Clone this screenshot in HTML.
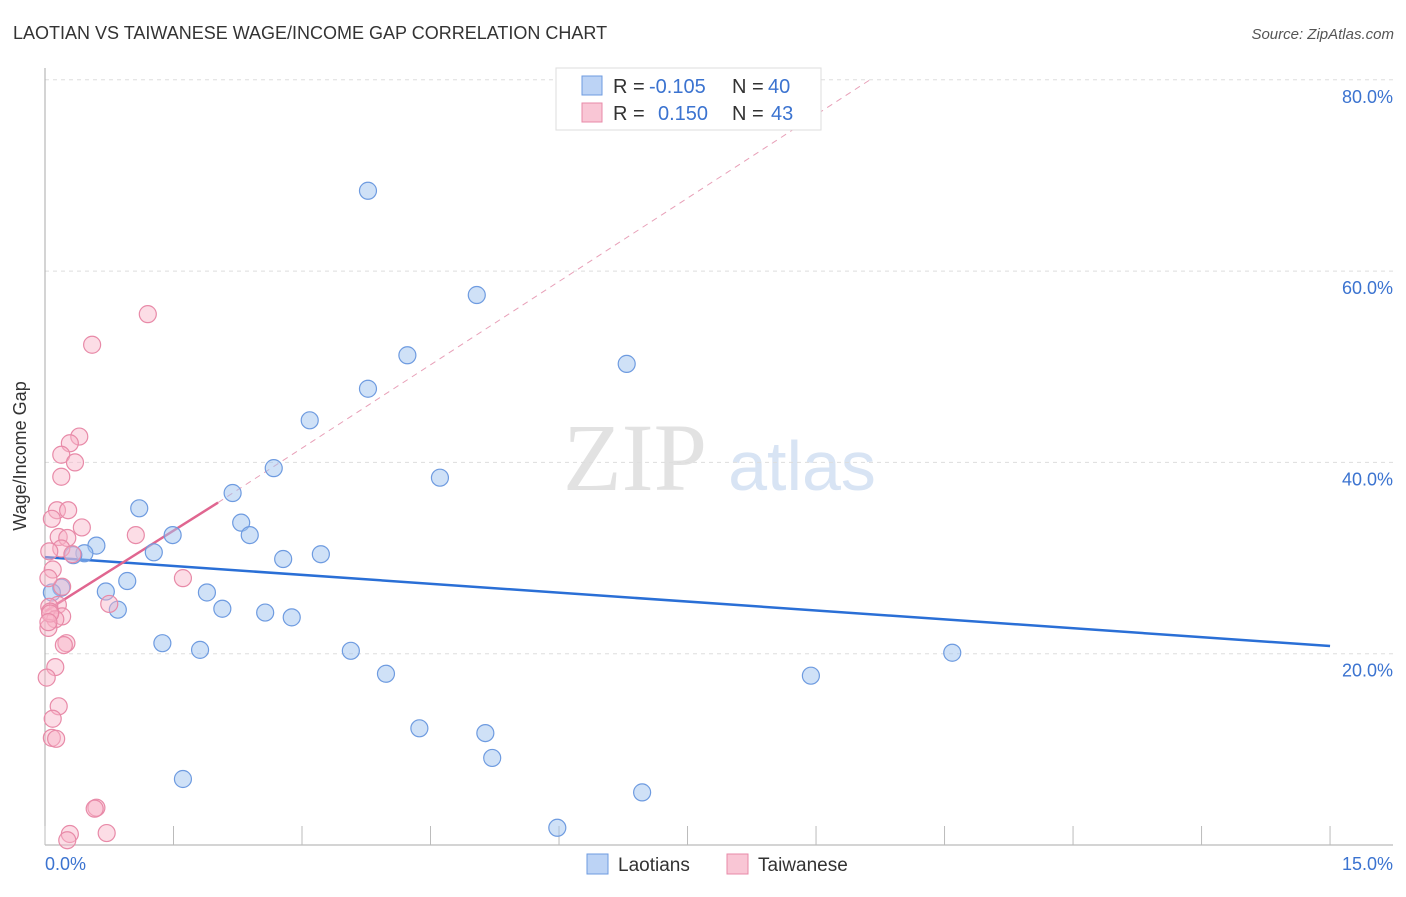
<!DOCTYPE html>
<html><head><meta charset="utf-8"><style>
body{margin:0;background:#fff;font-family:"Liberation Sans",sans-serif;}
</style></head><body>
<svg width="1406" height="892" xmlns="http://www.w3.org/2000/svg" font-family="Liberation Sans, sans-serif">
<text x="13" y="39" font-size="18" fill="#333">LAOTIAN VS TAIWANESE WAGE/INCOME GAP CORRELATION CHART</text>
<text x="1394" y="39" font-size="15" fill="#555" text-anchor="end" font-style="italic">Source: ZipAtlas.com</text>
<g>
<text x="635" y="490" font-size="96" fill="#e2e2e2" text-anchor="middle" font-family="Liberation Serif, serif">ZIP</text>
<text x="802" y="490" font-size="70" fill="#d8e4f4" text-anchor="middle">atlas</text>
</g>
<g id="grid"></g>
<g id="axes"></g>
<g id="trend"></g>
<g id="pts"></g>
<text x="26" y="456" font-size="18" fill="#333" text-anchor="middle" transform="rotate(-90 26 456)">Wage/Income Gap</text>
<text x="45" y="870" font-size="18" fill="#3b73d0">0.0%</text>
<text x="1393" y="870" font-size="18" fill="#3b73d0" text-anchor="end">15.0%</text>
<g>
<rect x="556" y="68" width="265" height="62" fill="#fff" stroke="#ddd"/>
<rect x="582" y="76" width="20" height="19" fill="#bcd3f5" stroke="#6e9be0"/>
<rect x="582" y="103" width="20" height="19" fill="#f9c6d5" stroke="#e88aa8"/>
<text x="613" y="93" font-size="20" fill="#333">R =</text>
<text x="649" y="93" font-size="20" fill="#3b73d0">-0.105</text>
<text x="732" y="93" font-size="20" fill="#333">N =</text>
<text x="768" y="93" font-size="20" fill="#3b73d0">40</text>
<text x="613" y="120" font-size="20" fill="#333">R =</text>
<text x="658" y="120" font-size="20" fill="#3b73d0">0.150</text>
<text x="732" y="120" font-size="20" fill="#333">N =</text>
<text x="771" y="120" font-size="20" fill="#3b73d0">43</text>
</g>
<g>
<rect x="587" y="854" width="21" height="20" fill="#bcd3f5" stroke="#6e9be0"/>
<text x="618" y="871" font-size="19" fill="#333">Laotians</text>
<rect x="727" y="854" width="21" height="20" fill="#f9c6d5" stroke="#e88aa8"/>
<text x="758" y="871" font-size="19" fill="#333">Taiwanese</text>
</g>
</svg>
<script>
const yTicks=[20,40,60,80];
const yTickLabels=["20.0%","40.0%","60.0%","80.0%"];
const xTicks=[0,1.5,3,4.5,6,7.5,9,10.5,12,13.5,15];
const blueX=[3.77,5.04,4.23,6.79,3.77,3.09,2.67,4.61,2.19,1.10,2.29,2.39,1.49,0.60,1.27,0.46,0.33,3.22,2.78,0.96,0.19,0.71,0.08,1.89,2.07,0.85,2.57,2.88,1.37,1.81,3.57,10.59,3.98,8.94,4.37,5.14,5.22,1.61,6.97,5.98];
const blueY=[68.4,57.5,51.2,50.3,47.7,44.4,39.4,38.4,36.8,35.2,33.7,32.4,32.4,31.3,30.6,30.5,30.3,30.4,29.9,27.6,26.9,26.5,26.4,26.4,24.7,24.6,24.3,23.8,21.1,20.4,20.3,20.1,17.9,17.7,12.2,11.7,9.1,6.9,5.5,1.8];
const pinkX=[1.20,0.55,0.40,0.29,0.19,0.35,0.19,0.14,0.27,0.08,0.43,1.06,0.16,0.26,0.19,0.32,0.05,0.09,0.20,0.04,1.61,0.75,0.15,0.05,0.06,0.20,0.12,0.04,0.25,0.22,0.12,0.02,0.16,0.09,0.08,0.13,0.60,0.58,0.72,0.29,0.26,0.06,0.04];
const pinkY=[55.5,52.3,42.7,42.0,40.8,40.0,38.5,35.0,35.0,34.1,33.2,32.4,32.2,32.1,31.0,30.4,30.7,28.8,27.0,27.9,27.9,25.2,25.1,24.9,24.4,23.9,23.6,22.7,21.1,20.9,18.6,17.5,14.5,13.2,11.2,11.1,3.9,3.8,1.25,1.15,0.5,24.2,23.3];
const blueTrend=[[0,30.1],[15,20.8]];
const pinkTrend=[[0,24.4],[2.02,35.8]];
const pinkDash=[[2.02,35.8],[9.63,80]];
const NS="http://www.w3.org/2000/svg";
const sx=v=>45+v*85.67, sy=v=>845-v*9.565;
function mk(t,a,p){const e=document.createElementNS(NS,t);for(const k in a)e.setAttribute(k,a[k]);document.getElementById(p).appendChild(e);return e;}
yTicks.forEach((t,i)=>{
 const l=mk('line',{x1:45,x2:1393,y1:sy(t),y2:sy(t),stroke:'#ddd','stroke-dasharray':'4,4'},'grid');
 
 
 const tx=mk('text',{x:1393,y:sy(t)+23,'font-size':18,fill:'#3b73d0','text-anchor':'end'},'grid');
 tx.textContent=yTickLabels[i];
 
 
});
let a=mk('line',{x1:45,x2:45,y1:68,y2:845,stroke:'#aaa'},'axes');


a=mk('line',{x1:45,x2:1393,y1:845,y2:845,stroke:'#aaa'},'axes');


xTicks.forEach(t=>{const l=mk('line',{x1:sx(t),x2:sx(t),y1:826,y2:845,stroke:'#bbb'},'axes');
 
 });
function tl(pts,c,w,d,name){const l=mk('line',{x1:sx(pts[0][0]),y1:sy(pts[0][1]),x2:sx(pts[1][0]),y2:sy(pts[1][1]),stroke:c,'stroke-width':w},'trend');
 if(d)l.setAttribute('stroke-dasharray',d);
 
 }
tl(pinkDash,'#e8a0b8',1,'6,5','taiwanese-trend-extension');
tl(blueTrend,'#2a6fd6',2.5,null,'laotians-trend-line');
tl(pinkTrend,'#e06690',2.5,null,'taiwanese-trend-line');
blueX.forEach((x,i)=>{const c=mk('circle',{cx:sx(x),cy:sy(blueY[i]),r:8.5,fill:'rgba(160,195,240,0.5)',stroke:'#6e9be0','stroke-width':1.2},'pts');
 
 });
pinkX.forEach((x,i)=>{const c=mk('circle',{cx:sx(x),cy:sy(pinkY[i]),r:8.5,fill:'rgba(248,180,200,0.45)',stroke:'#e88aa8','stroke-width':1.2},'pts');
 
 });
</script>
</body></html>
